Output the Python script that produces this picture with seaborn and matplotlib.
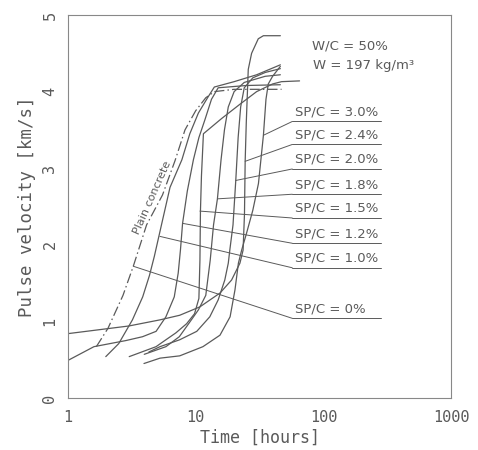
import numpy as np
import pandas as pd
import matplotlib
matplotlib.use("Agg")
import matplotlib.pyplot as plt
import seaborn as sns

sns.set_theme(style="white")
plt.rcParams['font.family'] = ['DejaVu Sans']

# ---- data (time in hours, pulse velocity in km/s) ----
plain_t = [1.67, 2.06, 2.7, 3.25, 4.13, 5.5, 6.9, 8.25, 10.0, 12.0, 14.0, 20.0, 47.0]
plain_v = [0.67, 0.91, 1.34, 1.72, 2.26, 2.65, 3.1, 3.5, 3.75, 3.92, 4.0, 4.03, 4.03]

sp10_t = [1.98, 2.5, 3.2, 3.85, 4.35, 4.75, 5.4, 6.3, 7.8, 9.0, 10.5, 12.5, 14.0, 20.0, 30.0, 46.0]
sp10_v = [0.54, 0.71, 1.02, 1.32, 1.6, 1.85, 2.26, 2.75, 3.11, 3.45, 3.72, 3.93, 4.06, 4.13, 4.22, 4.35]

sp12_t = [1.0, 1.6, 2.85, 3.84, 4.9, 5.85, 6.8, 7.3, 7.6, 7.9, 8.6, 9.6, 10.6, 11.8, 13.3, 15.0, 25.0, 46.0]
sp12_v = [0.49, 0.67, 0.75, 0.80, 0.87, 1.06, 1.32, 1.63, 1.93, 2.28, 2.7, 3.11, 3.4, 3.63, 3.9, 4.05, 4.08, 4.09]

sp15_t = [3.02, 4.9, 5.85, 7.0, 8.5, 9.8, 10.6, 10.8, 10.9, 11.1, 11.5, 16.0, 22.0, 30.0, 40.0, 47.0, 65.0]
sp15_v = [0.54, 0.67, 0.76, 0.85, 0.97, 1.1, 1.3, 1.8, 2.44, 2.9, 3.45, 3.65, 3.83, 4.0, 4.1, 4.13, 4.14]

sp18_t = [3.96, 5.85, 7.45, 8.9, 10.5, 12.0, 13.0, 13.8, 14.8, 15.8, 16.8, 18.0, 20.0, 24.0, 35.0, 46.0]
sp18_v = [0.57, 0.67, 0.80, 0.98, 1.15, 1.34, 1.8, 2.26, 2.6, 3.11, 3.5, 3.8, 4.0, 4.12, 4.2, 4.22]

sp20_t = [4.3, 5.26, 7.5, 10.2, 12.9, 15.0, 16.9, 18.0, 18.5, 19.6, 20.6, 21.5, 22.5, 24.0, 28.0, 35.0, 46.0]
sp20_v = [0.6, 0.67, 0.76, 0.87, 1.06, 1.28, 1.54, 1.76, 1.93, 2.26, 2.84, 3.4, 3.8, 4.05, 4.18, 4.25, 4.3]

sp24_t = [1.0, 3.0, 5.26, 7.5, 10.8, 15.5, 19.1, 22.2, 23.5, 24.1, 24.4, 24.9, 25.8, 27.4, 30.9, 33.9, 46.0]
sp24_v = [0.84, 0.94, 1.02, 1.08, 1.19, 1.37, 1.54, 1.76, 1.93, 2.4, 3.09, 3.6, 4.29, 4.5, 4.69, 4.73, 4.73]

sp30_t = [3.94, 5.26, 7.5, 11.4, 15.5, 18.6, 20.3, 21.6, 22.9, 25.0, 28.0, 31.0, 33.9, 35.5, 37.0, 40.0, 46.0]
sp30_v = [0.45, 0.52, 0.55, 0.67, 0.82, 1.06, 1.41, 1.76, 1.93, 2.15, 2.45, 2.8, 3.43, 3.9, 4.1, 4.2, 4.33]

labels = ["SP/C = 3.0%", "SP/C = 2.4%", "SP/C = 2.0%", "SP/C = 1.8%",
          "SP/C = 1.5%", "SP/C = 1.2%", "SP/C = 1.0%", "SP/C = 0%"]
leader_t = [33.9, 24.4, 20.6, 14.8, 10.8, 7.9, 5.25, 3.25]
leader_v = [3.43, 3.09, 2.84, 2.60, 2.44, 2.28, 2.11, 1.72]
underline_v = [3.61, 3.31, 2.99, 2.66, 2.35, 2.02, 1.70, 1.04]

xticks = [1, 10, 100, 1000]
xtick_labels = ["1", "10", "100", "1000"]
yticks = [0, 1, 2, 3, 4, 5]
ytick_labels = ["0", "1", "2", "3", "4", "5"]

# ---- figure ----
ink = "#5a5a5a"
fig = plt.figure(figsize=(4.78, 4.5), dpi=100)
ax = fig.add_axes([0.142, 0.1156, 0.802, 0.851])

solid = [(sp10_t, sp10_v), (sp12_t, sp12_v), (sp15_t, sp15_v), (sp18_t, sp18_v),
         (sp20_t, sp20_v), (sp24_t, sp24_v), (sp30_t, sp30_v)]
for t, v in solid:
    sns.lineplot(x=t, y=v, ax=ax, color=ink, lw=0.9, estimator=None, sort=False)
sns.lineplot(x=plain_t, y=plain_v, ax=ax, color=ink, lw=0.9, estimator=None,
             sort=False, linestyle=(0, (8, 2.5, 1.2, 2.5)))

ax.set_xscale("log")
ax.set_xlim(1, 1000)
ax.set_ylim(0, 5)

mono = "DejaVu Sans Mono"
ax.set_xticks(xticks)
ax.set_xticklabels(xtick_labels, family=mono, fontsize=11, color=ink)
ax.set_yticks(yticks)
ax.set_yticklabels(ytick_labels, family=mono, fontsize=11, color=ink, rotation=90, va="center")
ax.xaxis.set_minor_locator(matplotlib.ticker.NullLocator())
ax.tick_params(axis="both", which="major", direction="inout", length=5, width=0.8,
               color=ink, pad=5)
ax.tick_params(axis="x", pad=6)
ax.set_xlabel("Time [hours]", family=mono, fontsize=12, color=ink, labelpad=3)
ax.set_ylabel("Pulse velocity [km/s]", family=mono, fontsize=12.5, color=ink, labelpad=5)
for s in ax.spines.values():
    s.set_color("#888888")
    s.set_linewidth(0.8)

# annotations
for lab, lt, lv, uv in zip(labels, leader_t, leader_v, underline_v):
    ax.plot([lt, 57], [lv, uv], color=ink, lw=0.7)
    ax.plot([57, 282], [uv, uv], color=ink, lw=0.7)
    ax.text(60, uv + 0.04, lab, fontsize=9.5, color=ink, ha="left", va="bottom")

ax.text(81, 4.59, "W/C = 50%", fontsize=9.5, color=ink, ha="left", va="center")
ax.text(83, 4.34, "W = 197 kg/m³", fontsize=9.5, color=ink, ha="left", va="center")
ax.text(4.59, 2.61, "Plain concrete", fontsize=8, color=ink, rotation=66,
        ha="center", va="center")

fig.savefig("out.png", dpi=100)
